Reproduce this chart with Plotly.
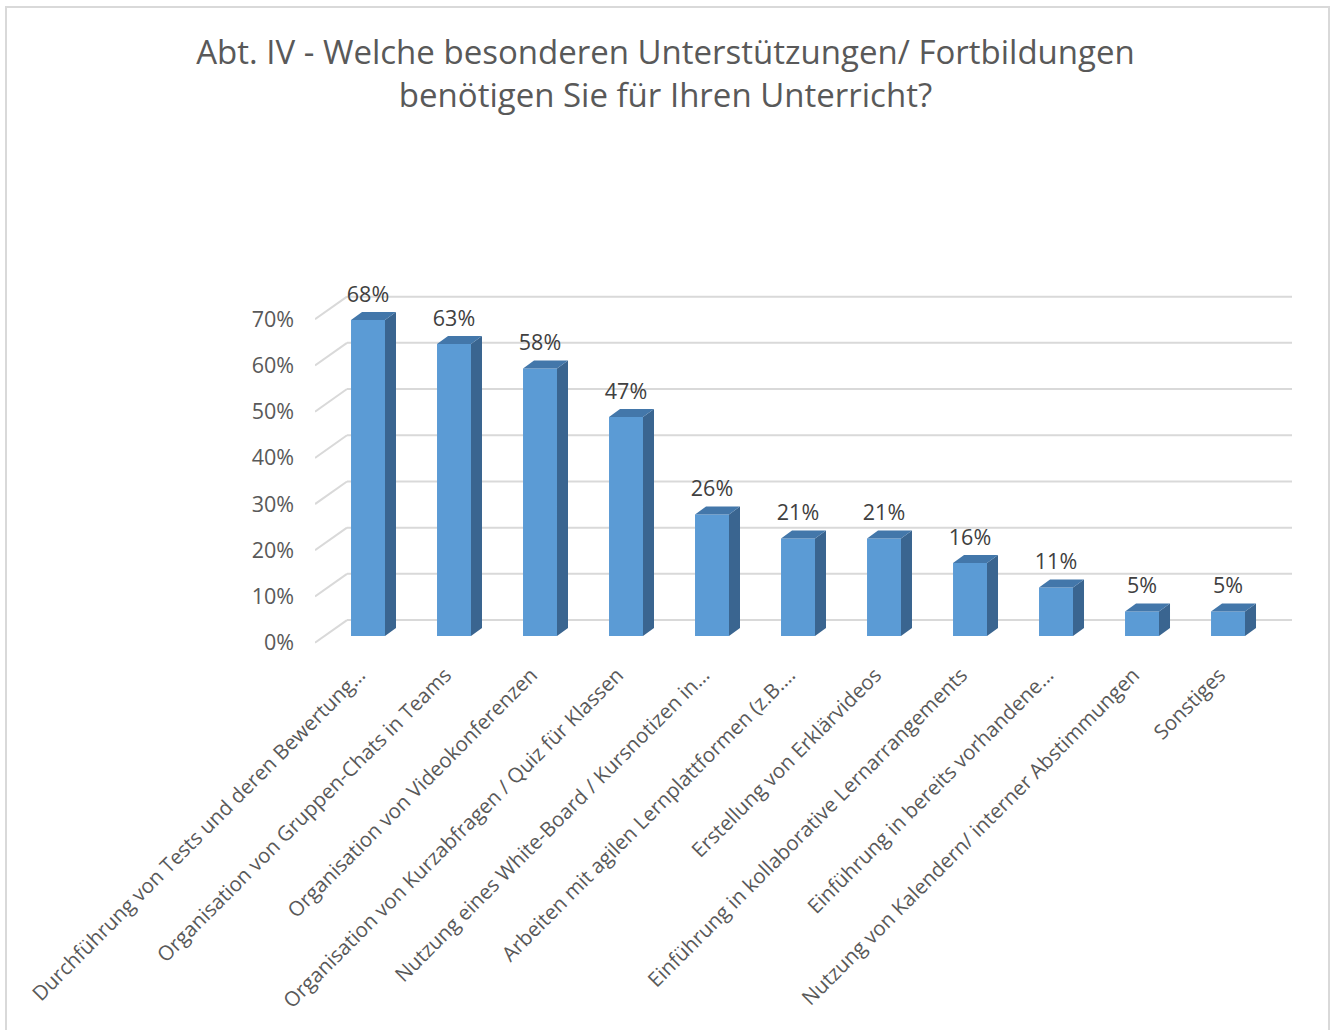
import math
import plotly.graph_objects as go

# data (share of answers, in percent)
categories = [
    "Durchführung von Tests und deren Bewertung…",
    "Organisation von Gruppen-Chats in Teams",
    "Organisation von Videokonferenzen",
    "Organisation von Kurzabfragen / Quiz für Klassen",
    "Nutzung eines White-Board / Kursnotizen in…",
    "Arbeiten mit agilen Lernplattformen (z.B.…",
    "Erstellung von Erklärvideos",
    "Einführung in kollaborative Lernarrangements",
    "Einführung in bereits vorhandene…",
    "Nutzung von Kalendern/ interner Abstimmungen",
    "Sonstiges",
]
values = [68.4, 63.2, 57.9, 47.4, 26.3, 21.1, 21.1, 15.8, 10.5, 5.3, 5.3]
y_ticks = [0, 10, 20, 30, 40, 50, 60, 70]
y_ticktext = [f"{v}%" for v in y_ticks]

TITLE = "Abt. IV - Welche besonderen Unterstützungen/ Fortbildungen<br>benötigen Sie für Ihren Unterricht?"

# fake 3d look (excel style 3d columns)
BACK_DX, BACK_DY = 0.372, 4.9   # depth of the floor/back wall
BAR_BASE = 1.45                # bars stand a bit in front of the back wall
BAR_W = 0.395
BAR_DX, BAR_DY = 0.128, 1.73   # depth of each column
LABEL_LIFT = 1.1

X_RANGE = [-0.6163, 10.837]
Y_RANGE = [-1.58, 77.42]
W, H = 1331, 1030
M = dict(l=315, r=31, t=285, b=380)

FRONT = "#5B9BD5"
TOP = "#4377AA"
SIDE = "#3A6590"
GRID = "#D9D9D9"
TXT = "#595959"

n = len(values)
x_idx = list(range(n))

top_x, top_y, side_x, side_y = [], [], [], []
for i, v in zip(x_idx, values):
    l, r = i - BAR_W / 2, i + BAR_W / 2
    t = BAR_BASE + v
    top_x += [l, r, r + BAR_DX, l + BAR_DX, l, None]
    top_y += [t, t, t + BAR_DY, t + BAR_DY, t, None]
    side_x += [r, r, r + BAR_DX, r + BAR_DX, r, None]
    side_y += [BAR_BASE, t, t + BAR_DY, BAR_BASE + BAR_DY, BAR_BASE, None]

fig = go.Figure()

fig.add_trace(go.Bar(
    x=x_idx, y=values, base=BAR_BASE, width=BAR_W,
    marker=dict(color=FRONT, line=dict(width=0)),
    hoverinfo="skip"
))

fig.add_trace(go.Scatter(
    x=side_x, y=side_y, mode="lines", fill="toself",
    fillcolor=SIDE, line=dict(width=0, color=SIDE),
    hoverinfo="skip"
))
fig.add_trace(go.Scatter(
    x=top_x, y=top_y, mode="lines", fill="toself",
    fillcolor=TOP, line=dict(width=0, color=TOP),
    hoverinfo="skip"
))

fig.add_trace(go.Scatter(
    x=x_idx, y=[BAR_BASE + v + BAR_DY + LABEL_LIFT for v in values],
    mode="text", text=[f"{math.floor(v + 0.5)}%" for v in values],
    textposition="top center",
    textfont=dict(family="Open Sans", size=21.5, color="#404040"),
    hoverinfo="skip"
))

# grid lines: diagonal on the side wall + horizontal on the back wall
for v in y_ticks:
    fig.add_shape(type="line", xref="x", yref="y", layer="below",
                  x0=X_RANGE[0], y0=v, x1=X_RANGE[0] + BACK_DX, y1=v + BACK_DY,
                  line=dict(color=GRID, width=2))
    fig.add_shape(type="line", xref="x", yref="y", layer="below",
                  x0=X_RANGE[0] + BACK_DX, y0=v + BACK_DY, x1=n - 1 + 0.744, y1=v + BACK_DY,
                  line=dict(color=GRID, width=2))

# light border round the chart area, like the excel chart frame
def px_x(p):
    return (p - M["l"]) / (W - M["l"] - M["r"])

def px_y(p):
    return (H - M["b"] - p) / (H - M["t"] - M["b"])

fig.add_shape(
    type="rect", xref="paper", yref="paper",
    x0=px_x(6), x1=px_x(1329), y0=px_y(1040), y1=px_y(7),
    line=dict(color=GRID, width=2), layer="below"
)

fig.update_layout(
    width=W, height=H,
    margin=M,
    showlegend=False,
    plot_bgcolor="white",
    paper_bgcolor="white",
    font=dict(family="Open Sans", color=TXT),
    title=dict(
        text=TITLE, x=0.5, xref="container", xanchor="center",
        y=1 - 64 / H, yref="container", yanchor="middle",
        font=dict(family="Open Sans", size=33, color=TXT)
    ),
    xaxis=dict(
        range=X_RANGE, tickmode="array",
        tickvals=[i - 0.1 for i in x_idx], ticktext=categories,
        tickangle=-45, tickfont=dict(size=20.5, color=TXT), ticklabelstandoff=8,
        showgrid=False, zeroline=False, showline=False, ticks="",
        automargin=False, fixedrange=True
    ),
    yaxis=dict(
        range=Y_RANGE, tickmode="array", tickvals=y_ticks, ticktext=y_ticktext,
        tickfont=dict(size=21.5, color=TXT), ticklabelstandoff=20,
        showgrid=False, zeroline=False, showline=False, ticks="",
        automargin=False, fixedrange=True
    ),
)

fig.write_html("out.html", config={"displayModeBar": False},
               post_script="document.body.style.margin='0px';")
